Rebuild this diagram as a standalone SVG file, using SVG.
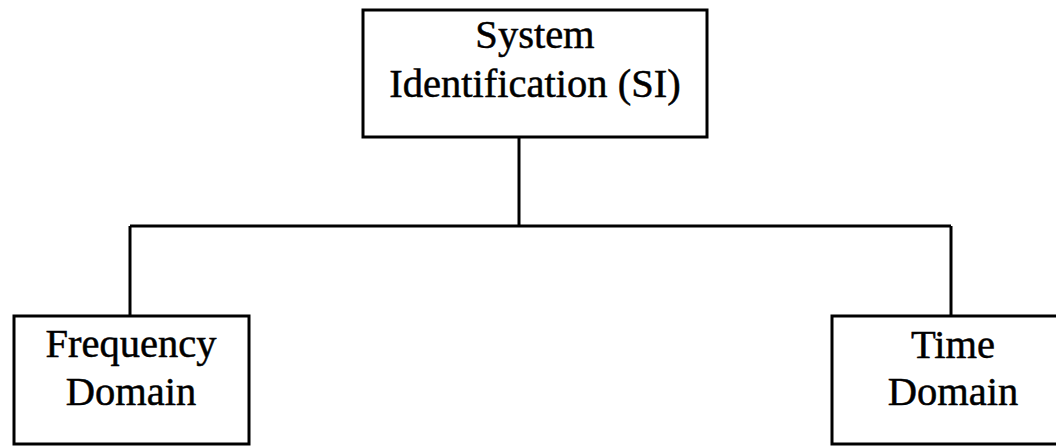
<svg xmlns="http://www.w3.org/2000/svg" width="1056" height="447" viewBox="0 0 1056 447">
<style>
.box{fill:#fff;stroke:#000;stroke-width:3}
.lbl{font-family:"Liberation Serif","Times New Roman",serif;font-size:40.5px;fill:#000;stroke:#000;stroke-width:0.5;text-anchor:middle}
.conn{fill:none;stroke:#000;stroke-width:3}
</style>
<rect width="1056" height="447" fill="#fff"/>
<g id="connectors">
<path class="conn" d="M519,137 V226"/>
<path class="conn" d="M130,226 H951"/>
<path class="conn" d="M130,226 V316"/>
<path class="conn" d="M951,226 V316"/>
</g>
<g id="node-si">
<rect class="box" x="363" y="10" width="344" height="127"/>
<text class="lbl" x="535" y="48">System</text>
<text class="lbl" x="535" y="97">Identification (SI)</text>
</g>
<g id="node-frequency">
<rect class="box" x="14" y="316" width="235" height="128"/>
<text class="lbl" x="131" y="357">Frequency</text>
<text class="lbl" x="131" y="405">Domain</text>
</g>
<g id="node-time">
<rect class="box" x="832" y="316" width="242" height="128"/>
<text class="lbl" x="953" y="358">Time</text>
<text class="lbl" x="953" y="405">Domain</text>
</g>
</svg>
